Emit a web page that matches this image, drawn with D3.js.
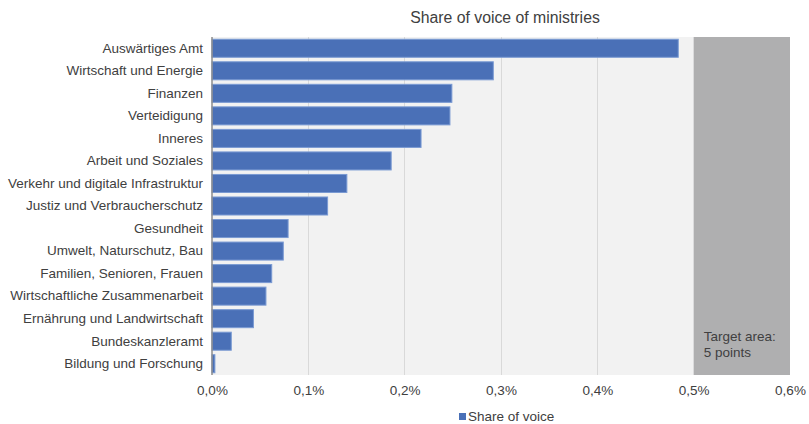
<!DOCTYPE html>
<html><head><meta charset="utf-8">
<script src="https://cdn.jsdelivr.net/npm/d3@7"></script>
<style>body{margin:0;background:#fff;font-family:"Liberation Sans",Arial,sans-serif;}</style>
</head><body><svg id="c" width="809" height="424"></svg>
<script>
const categories = ["Auswärtiges Amt","Wirtschaft und Energie","Finanzen","Verteidigung","Inneres","Arbeit und Soziales","Verkehr und digitale Infrastruktur","Justiz und Verbraucherschutz","Gesundheit","Umwelt, Naturschutz, Bau","Familien, Senioren, Frauen","Wirtschaftliche Zusammenarbeit","Ernährung und Landwirtschaft","Bundeskanzleramt","Bildung und Forschung"];
const values = [0.484,0.292,0.249,0.247,0.217,0.186,0.140,0.120,0.079,0.074,0.062,0.056,0.043,0.020,0.003];
const tickValues = [0,0.1,0.2,0.3,0.4,0.5,0.6];
const tickLabels = ["0,0%","0,1%","0,2%","0,3%","0,4%","0,5%","0,6%"];
const targetRange = [0.5,0.6];
const title = "Share of voice of ministries";
const seriesName = "Share of voice";
const targetText = ["Target area:","5 points"];

const FF = "Liberation Sans, Arial, sans-serif";
const svg = d3.select("#c").attr("font-family",FF);
const m = {l:212,r:790,t:37,b:375};
const x = d3.scaleLinear().domain([0,0.6]).range([m.l,m.r]);
const y = d3.scaleBand().domain(categories).range([m.t,m.b]).paddingInner(0.2).paddingOuter(0.1);
const txt = "#404040";
const fs = "13.5px";

svg.append("rect").attr("x",m.l).attr("y",m.t).attr("width",m.r-m.l).attr("height",m.b-m.t).attr("fill","#f2f2f2");
svg.append("rect").attr("x",x(targetRange[0])).attr("y",m.t).attr("width",x(targetRange[1])-x(targetRange[0])).attr("height",m.b-m.t).attr("fill","#afafb0");

svg.append("g").selectAll("line").data(tickValues.slice(1,5)).join("line")
  .attr("x1",d=>x(d)).attr("x2",d=>x(d)).attr("y1",m.t).attr("y2",m.b)
  .attr("stroke","#d9d9d9").attr("stroke-width",1).attr("shape-rendering","crispEdges");

svg.append("g").selectAll("rect").data(values).join("rect")
  .attr("x",x(0)).attr("y",(d,i)=>y(categories[i]))
  .attr("width",d=>x(d)-x(0)).attr("height",y.bandwidth())
  .attr("fill","#4a70b7").attr("stroke","#7a9ad3").attr("stroke-width",1);

svg.append("line").attr("x1",m.l).attr("x2",m.l).attr("y1",m.t).attr("y2",m.b).attr("stroke","#8c8c8c").attr("stroke-width",1.5);

const ax = d3.axisBottom(x).tickValues(tickValues).tickFormat((d,i)=>tickLabels[i]).tickSize(0).tickPadding(10);
const g = svg.append("g").attr("transform",`translate(0,${m.b})`).call(ax);
g.attr("font-family",FF);
g.select(".domain").remove();
g.selectAll("text").attr("fill",txt).attr("font-size",fs);

const ay = d3.axisLeft(y).tickSize(0).tickPadding(9);
const gy = svg.append("g").attr("transform",`translate(${m.l},0)`).call(ay);
gy.attr("font-family",FF);
gy.select(".domain").remove();
gy.selectAll("text").attr("fill",txt).attr("font-size",fs);

svg.append("text").attr("x",505).attr("y",23).attr("text-anchor","middle").attr("fill",txt).attr("font-size","15.8px").text(title);

svg.append("text").attr("x",x(targetRange[0])+10).attr("y",341).attr("fill",txt).attr("font-size",fs)
  .selectAll("tspan").data(targetText).join("tspan").attr("x",x(targetRange[0])+10).attr("dy",(d,i)=>i?16:0).text(d=>d);

svg.append("rect").attr("x",459).attr("y",413).attr("width",7).attr("height",7).attr("fill","#4a70b7");
svg.append("text").attr("x",468).attr("y",421).attr("fill",txt).attr("font-size",fs).text(seriesName);
</script></body></html>
